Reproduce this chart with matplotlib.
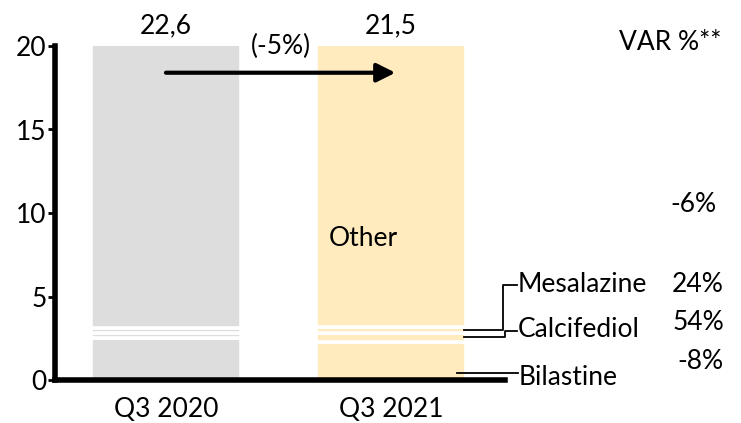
import matplotlib.pyplot as plt
import numpy as np

plt.rcParams['font.family'] = ['Lato', 'DejaVu Sans']

# Stacked volumes per quarter (bottom to top)
periods = ['Q3 2020', 'Q3 2021']
bilastine = [2.5, 2.3]
calcifediol = [0.34, 0.52]
mesalazine = [0.27, 0.335]
other = [19.49, 18.345]
totals = ['22,6', '21,5']
change_total = '(-5%)'

segment_names = ['Bilastine', 'Calcifediol', 'Mesalazine', 'Other']
var_pct = ['-8%', '54%', '24%', '-6%']
bar_colors = ['#DDDDDD', '#FFEBBE']

FS = 19

fig = plt.figure(figsize=(7.41, 4.23), dpi=100)
ax = fig.add_axes([55 / 741, 43 / 423, 450 / 741, 334 / 423])

x = np.arange(len(periods))
width = 0.665
bottom = np.zeros(len(periods))
for series in [bilastine, calcifediol, mesalazine, other]:
    ax.bar(x, series, width, bottom=bottom, color=bar_colors,
           edgecolor='white', linewidth=2.6)
    bottom += np.array(series)

ax.set_xlim(-0.493, 1.507)
ax.set_ylim(0, 20)
ax.set_yticks([0, 5, 10, 15, 20])
ax.set_xticks(x)
ax.set_xticklabels(periods)
ax.tick_params(axis='x', length=0, labelsize=FS, pad=12)
ax.tick_params(axis='y', length=5, width=2, labelsize=FS, pad=1)
for side in ['top', 'right']:
    ax.spines[side].set_visible(False)
for side in ['left', 'bottom']:
    ax.spines[side].set_linewidth(4)

# Totals above the bars and overall change arrow
for xi, t in zip(x, totals):
    ax.text(xi, 21.2, t, ha='center', va='center', fontsize=FS, clip_on=False)
ax.annotate('', xy=(1.02, 18.4), xytext=(0, 18.4),
            arrowprops=dict(arrowstyle='-|>', lw=3, color='black',
                            mutation_scale=28, shrinkA=0, shrinkB=0))
ax.text(0.51, 19.95, change_total, ha='center', va='center', fontsize=FS, clip_on=False)
ax.text(1 - 0.325 + 0.05, 8.5, segment_names[3], ha='left', va='center', fontsize=FS)

# Segment labels with leader lines on the right
lk = dict(color='black', lw=1.3, clip_on=False)
ax.plot([1.325, 1.498, 1.498, 1.56], [3.0, 3.0, 5.69, 5.69], **lk)
ax.plot([1.325, 1.507, 1.507, 1.56], [2.56, 2.56, 2.95, 2.95], **lk)
ax.plot([1.293, 1.565], [0.42, 0.42], **lk)

ax.text(1.562, 5.69, segment_names[2], ha='left', va='center', fontsize=FS, clip_on=False)
ax.text(1.562, 3.0, segment_names[1], ha='left', va='center', fontsize=FS, clip_on=False)
ax.text(1.567, 0.15, segment_names[0], ha='left', va='center', fontsize=FS, clip_on=False)

ax.text(2.47, 20.2, 'VAR %**', ha='right', va='center', fontsize=FS, clip_on=False)
ax.text(2.445, 10.5, var_pct[3], ha='right', va='center', fontsize=FS, clip_on=False)
ax.text(2.48, 5.69, var_pct[2], ha='right', va='center', fontsize=FS, clip_on=False)
ax.text(2.48, 3.45, var_pct[1], ha='right', va='center', fontsize=FS, clip_on=False)
ax.text(2.48, 1.1, var_pct[0], ha='right', va='center', fontsize=FS, clip_on=False)

fig.savefig('out.png', dpi=100)
